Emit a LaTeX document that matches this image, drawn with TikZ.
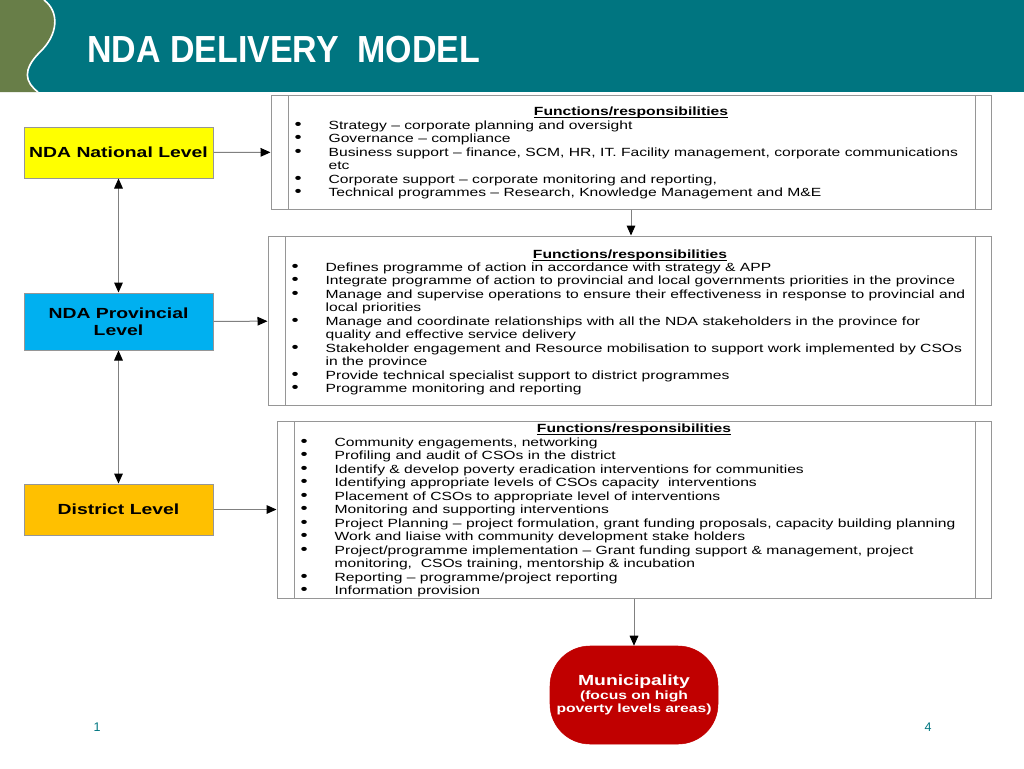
\documentclass[tikz,border=0pt]{standalone}
\usepackage{fontspec}
\setmainfont{Liberation Sans}
\newfontfamily\diagfont{Liberation Sans}[FakeStretch=1.32, Ligatures=TeX]
\newfontfamily\titlefont{Liberation Sans}[FakeStretch=0.9, Ligatures=TeX]
\usetikzlibrary{arrows.meta}
\definecolor{headteal}{RGB}{0,117,128}
\definecolor{headgreen}{RGB}{104,126,72}
\definecolor{natyellow}{RGB}{255,255,0}
\definecolor{provblue}{RGB}{0,176,240}
\definecolor{distgold}{RGB}{255,192,0}
\definecolor{munired}{RGB}{192,0,0}
\definecolor{framegray}{RGB}{150,150,150}
\definecolor{linegray}{RGB}{128,128,128}
\newcommand{\bulitem}{\makebox[25pt][l]{\hspace*{-0.5pt}\fontsize{11.5}{10.1}\selectfont\textbullet}}
\newcommand{\contline}{\hspace*{25pt}}
\newcommand{\funchdr}{\underline{\smash{Functions/responsibilities}}}
\tikzset{
  level/.style={draw=framegray, line width=0.75pt, minimum width=141.75pt, inner sep=0pt,
    align=center, font=\diagfont\bfseries\fontsize{11}{12.5}\selectfont},
  funcbox/.style={draw=framegray, line width=0.75pt, inner sep=0pt},
  funchead/.style={anchor=base, inner sep=0pt, font=\diagfont\bfseries\fontsize{8.9}{10.1}\selectfont},
  functext/.style={anchor=north west, inner sep=0pt, align=left, font=\diagfont\fontsize{8.9}{10.1}\selectfont},
  arr/.style={draw=linegray, line width=0.75pt, -{Triangle[length=7.5pt,width=6.5pt,color=black]}},
  darr/.style={draw=linegray, line width=0.75pt, {Triangle[length=7.5pt,width=6.5pt,color=black]}-{Triangle[length=7.5pt,width=6.5pt,color=black]}},
}
\begin{document}
\begin{tikzpicture}[x=0.75pt, y=-0.75pt]
\useasboundingbox (0,0) rectangle (1024,768);
% header
\fill[headteal] (0,0) rectangle (1024,92);
\fill[headgreen] (0,0) -- (44,0) .. controls (60,12) and (58,35) .. (40,52)
  .. controls (22,70) and (25,82) .. (38,92) -- (0,92) -- cycle;
\draw[white, line width=1.2pt] (44,0) .. controls (60,12) and (58,35) .. (40,52)
  .. controls (22,70) and (25,82) .. (38,92);
\node[anchor=base west, inner sep=0pt, text=white, font=\titlefont\bfseries\fontsize{28.3}{30}\selectfont] (title) at (87,62) {NDA DELIVERY\ \ MODEL};

% levels
\node[level, fill=natyellow, minimum height=38.25pt] (natl) at (118.5,152.5) {NDA National Level};
\node[level, fill=provblue, minimum height=42.75pt] (prov) at (118.5,321.5) {NDA Provincial\\Level};
\node[level, fill=distgold, minimum height=38.25pt] (dist) at (118.5,509.5) {District Level};
\node[draw=munired, fill=munired, rounded corners=30pt, minimum width=126pt, minimum height=73.5pt,
  inner sep=0pt, align=center, text=white, font=\diagfont\bfseries\fontsize{8.9}{10.1}\selectfont] (muni) at (634,695)
  {{\fontsize{11}{12}\selectfont Municipality}\\(focus on high\\poverty levels areas)};

% function boxes
\node[funcbox, minimum width=540pt, minimum height=85.5pt] (natfun) at (631,152) {};
\node[funcbox, minimum width=542.25pt, minimum height=126.75pt] (provfun) at (629.5,320.5) {};
\node[funcbox, minimum width=535.5pt, minimum height=132.75pt] (distfun) at (634,509.5) {};
\draw[framegray, line width=0.75pt] (288,95) -- (288,209) (975,95) -- (975,209);
\draw[framegray, line width=0.75pt] (285,236) -- (285,405) (975,236) -- (975,405);
\draw[framegray, line width=0.75pt] (294,421) -- (294,598) (975,421) -- (975,598);

\node[funchead] (nathead) at (631,115) {\funchdr};
\node[functext] (nattext) at (295,120.5) {%
\bulitem Strategy -- corporate planning and oversight\\
\bulitem Governance -- compliance\\
\bulitem Business support -- finance, SCM, HR, IT. Facility management, corporate communications\\
\contline etc\\
\bulitem Corporate support -- corporate monitoring and reporting,\\
\bulitem Technical programmes -- Research, Knowledge Management and M\&E};

\node[funchead] (provhead) at (630,258) {\funchdr};
\node[functext] (provtext) at (292,262.5) {%
\bulitem Defines programme of action in accordance with strategy \& APP\\
\bulitem Integrate programme of action to provincial and local governments priorities in the province\\
\bulitem Manage and supervise operations to ensure their effectiveness in response to provincial and\\
\contline local priorities\\
\bulitem Manage and coordinate relationships with all the NDA stakeholders in the province for\\
\contline quality and effective service delivery\\
\bulitem Stakeholder engagement and Resource mobilisation to support work implemented by CSOs\\
\contline in the province\\
\bulitem Provide technical specialist support to district programmes\\
\bulitem Programme monitoring and reporting};

\node[funchead] (disthead) at (634,432) {\funchdr};
\node[functext] (disttext) at (301,437.5) {%
\bulitem Community engagements, networking\\
\bulitem Profiling and audit of CSOs in the district\\
\bulitem Identify \& develop poverty eradication interventions for communities\\
\bulitem Identifying appropriate levels of CSOs capacity\ \ interventions\\
\bulitem Placement of CSOs to appropriate level of interventions\\
\bulitem Monitoring and supporting interventions\\
\bulitem Project Planning -- project formulation, grant funding proposals, capacity building planning\\
\bulitem Work and liaise with community development stake holders\\
\bulitem Project/programme implementation -- Grant funding support \& management, project\\
\contline monitoring,\ \ CSOs training, mentorship \& incubation\\
\bulitem Reporting -- programme/project reporting\\
\bulitem Information provision};

% connectors
\draw[darr] (natl) -- (prov);
\draw[darr] (prov) -- (dist);
\draw[arr] (natl) -- (natfun);
\draw[arr] (prov) -- (provfun);
\draw[arr] (dist) -- (distfun);
\draw[arr] (natfun.south) -- (natfun.south |- provfun.north);
\draw[arr] (distfun.south) -- (muni.north);

% page numbers
\node[anchor=base, inner sep=0pt, text=headteal, font=\fontsize{9.4}{11}\selectfont] (pageleft) at (97,731) {1};
\node[anchor=base, inner sep=0pt, text=headteal, font=\fontsize{9.4}{11}\selectfont] (pageright) at (928,731) {4};
\end{tikzpicture}
\end{document}
